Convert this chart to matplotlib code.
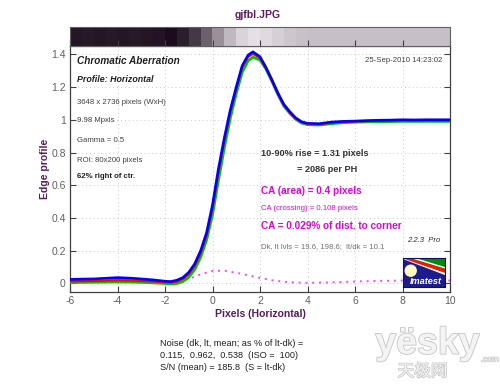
import numpy as np
import matplotlib
matplotlib.use('Agg')
import matplotlib.pyplot as plt
from matplotlib.colors import LinearSegmentedColormap
from matplotlib.patches import Polygon, Ellipse
import matplotlib.patheffects as pe

plt.rcParams['font.family'] = ['Liberation Sans', 'DejaVu Sans']
plt.rcParams['axes.unicode_minus'] = False

PURPLE = '#5a1a5e'
TICK_C = '#606060'
MAG = '#e000e0'

# ── data ─────────────────────────────────────────────
x_px = [-6, -5.5, -5, -4.5, -4, -3.5, -3, -2.5, -2, -1.75, -1.5, -1.25, -1, -0.75,
        -0.5, -0.25, 0, 0.25, 0.5, 0.75, 1.0, 1.25, 1.5, 1.7, 2.0, 2.25, 2.5,
        2.75, 3.0, 3.25, 3.5, 3.75, 4.0, 4.5, 5.0, 5.5, 6, 6.5, 7, 7.5, 8, 8.5,
        9, 9.5, 10]
blue = [0.025, 0.027, 0.028, 0.032, 0.036, 0.033, 0.028, 0.022, 0.014, 0.012,
        0.02, 0.036, 0.068, 0.12, 0.2, 0.31, 0.48, 0.70, 0.89, 1.06, 1.2, 1.33,
        1.395, 1.415, 1.385, 1.32, 1.245, 1.165, 1.095, 1.05, 1.012, 0.988,
        0.978, 0.976, 0.986, 0.99, 0.992, 0.995, 0.997, 0.998, 1.0, 0.999, 1.0,
        1.0, 1.0]
red = [0.014, 0.015, 0.016, 0.018, 0.02, 0.019, 0.016, 0.013, 0.008, 0.007,
       0.012, 0.028, 0.058, 0.108, 0.185, 0.295, 0.46, 0.68, 0.875, 1.05, 1.19,
       1.32, 1.385, 1.403, 1.378, 1.315, 1.24, 1.16, 1.09, 1.045, 1.008, 0.985,
       0.975, 0.973, 0.982, 0.987, 0.99, 0.992, 0.994, 0.995, 0.996, 0.996,
       0.996, 0.996, 0.996]
green = [0.006, 0.007, 0.008, 0.009, 0.01, 0.009, 0.007, 0.004, 0.0, -0.002,
         0.0, 0.012, 0.038, 0.085, 0.16, 0.265, 0.42, 0.63, 0.83, 1.01, 1.16,
         1.29, 1.36, 1.382, 1.365, 1.31, 1.235, 1.155, 1.085, 1.04, 1.003,
         0.98, 0.97, 0.968, 0.976, 0.982, 0.985, 0.987, 0.988, 0.989, 0.99,
         0.99, 0.99, 0.99, 0.99]

ca_x = [-6, -5, -4, -3, -2, -1.5, -1, -0.5, 0, 0.5, 1, 1.5, 2, 2.5, 3, 3.5,
        4, 5, 6, 7, 8, 9, 10]
ca_diff = [0.006, 0.006, 0.007, 0.006, 0.005, 0.012, 0.028, 0.056, 0.077,
           0.078, 0.066, 0.05, 0.034, 0.02, 0.011, 0.006, 0.004, 0.007, 0.012,
           0.016, 0.018, 0.018, 0.018]

strip_vals = [0.05, 0.06, 0.05, 0.06, 0.05, 0.06, 0.05, 0.04, 0.0, 0.08, 0.2,
              0.38, 0.6, 0.78, 0.9, 0.96, 0.93, 0.88, 0.84, 0.82, 0.81, 0.81,
              0.81, 0.81, 0.81, 0.81, 0.81, 0.81, 0.81, 0.81, 0.81, 0.81]

x_ticks = [-6, -4, -2, 0, 2, 4, 6, 8, 10]
y_ticks = [0, 0.2, 0.4, 0.6, 0.8, 1, 1.2, 1.4]
y_ticklabels = ['0', '0.2', '0.4', '0.6', '0.8', '1', '1.2', '1.4']

# ── figure ───────────────────────────────────────────
fig = plt.figure(figsize=(5.0, 3.84), dpi=100, facecolor='white')
ax = fig.add_axes([0.14, 0.2404, 0.76, 0.6396])
axs = fig.add_axes([0.14, 0.880, 0.76, 0.050])

# strip
cmap = LinearSegmentedColormap.from_list('edge', ['#1a0c1c', '#efe9ef'])
axs.imshow(np.array([strip_vals]), cmap=cmap, vmin=0, vmax=1, aspect='auto',
           interpolation='nearest', extent=(-6, 10, 0, 1))
axs.set_xlim(-6, 10)
axs.set_xticks(x_ticks)
axs.set_yticks([])
axs.tick_params(axis='x', direction='in', length=4, labelbottom=False,
                color='#404040', width=0.8)
for sp in axs.spines.values():
    sp.set_color('#606060')
    sp.set_linewidth(0.8)

# curves
ax.plot(x_px, green, color='#00c800', lw=2.0, zorder=3)
ax.plot(x_px, red, color='#ff0000', lw=1.7, zorder=4)
ax.plot(x_px, blue, color='#0000ff', lw=1.9, zorder=5)
ax.plot(ca_x, ca_diff, color='#ff40ff', lw=1.4, ls=(0, (1, 2.5)), zorder=2)

ax.set_xlim(-6, 10)
ax.set_ylim(-0.05, 1.45)
ax.set_xticks(x_ticks)
ax.set_yticks(y_ticks)
ax.set_yticklabels(y_ticklabels)
ax.tick_params(direction='in', length=4, right=True, top=False,
               labelsize=7.5, labelcolor=TICK_C, color='#404040', width=0.8,
               pad=3)
ax.grid(True, color='#c8c8c8', ls=(0, (1, 3)), lw=0.7)
for sp in ax.spines.values():
    sp.set_color('#404040')
    sp.set_linewidth(0.9)

ax.set_xlabel('Pixels (Horizontal)', color=PURPLE, fontsize=7.5,
              fontweight='bold', labelpad=2)
ax.set_ylabel('Edge profile', color=PURPLE, fontsize=7.5, fontweight='bold',
              labelpad=1)
fig.text(0.516, 0.961, 'gjfbl.JPG', color=PURPLE, fontsize=7.5,
         fontweight='bold', ha='center', va='center')

# text annotations (pixel positions -> figure fraction)
def ft(xp, yp, s, **kw):
    fig.text(xp / 500, 1 - yp / 384, s, va='center', **kw)

ft(77, 61, 'Chromatic Aberration', color='#202020', fontsize=7.2,
   fontweight='bold', style='italic')
ft(77, 79, 'Profile: Horizontal', color='#202020', fontsize=6.4,
   fontweight='bold', style='italic')
ft(77, 103, '3648 x 2736 pixels (WxH)', color='#404040', fontsize=5.6)
ft(77, 121, '9.98 Mpxls', color='#404040', fontsize=5.6)
ft(77, 141, 'Gamma = 0.5', color='#404040', fontsize=5.6)
ft(77, 161, 'ROI: 80x200 pixels', color='#404040', fontsize=5.6)
ft(77, 177, '62% right of ctr.', color='#202020', fontsize=5.6,
   fontweight='bold')
ft(442, 61, '25-Sep-2010 14:23:02', color='#404040', fontsize=5.6, ha='right')
ft(261, 153, '10-90% rise = 1.31 pixels', color='#333333', fontsize=6.6,
   fontweight='bold')
ft(297, 169, '= 2086 per PH', color='#333333', fontsize=6.6, fontweight='bold')
ft(261, 191, 'CA (area) = 0.4 pixels', color=MAG, fontsize=7.2,
   fontweight='bold')
ft(261, 208, 'CA (crossing) = 0.108 pixels', color=MAG, fontsize=5.6)
ft(261, 226, 'CA = 0.029% of dist. to corner', color=MAG, fontsize=7.2,
   fontweight='bold')
ft(261, 247, 'Dk, lt lvls = 19.6, 198.6;  lt/dk = 10.1', color='#707070',
   fontsize=5.6)
ft(407, 240, '2.2.3  Pro', color='#303030', fontsize=5.6, style='italic')

ft(160, 343, 'Noise (dk, lt, mean; as % of lt-dk) =', color='#202020',
   fontsize=6.6)
ft(160, 356, '0.115,  0.962,  0.538  (ISO =  100)', color='#202020',
   fontsize=6.6)
ft(160, 368, 'S/N (mean) = 185.8  (S = lt-dk)', color='#202020', fontsize=6.6)

# Imatest logo
axl = fig.add_axes([402.7 / 500, 1 - 286.7 / 384, 42.3 / 500, 28.4 / 384])
axl.set_xlim(0, 42.3)
axl.set_ylim(0, 28.4)
axl.set_facecolor('#1c1c8c')
axl.set_xticks([])
axl.set_yticks([])
for sp in axl.spines.values():
    sp.set_color('#101060')
axl.add_patch(Polygon([[0, 28.4], [42.3, 28.4], [42.3, 13]], color='white'))
axl.add_patch(Polygon([[16, 28.4], [42.3, 28.4], [42.3, 20.5]],
                      color='#008c00'))
axl.add_patch(Polygon([[2, 28.4], [6, 28.4], [42.3, 17.5], [42.3, 14.5]],
                      color='#e02000'))
axl.add_patch(Ellipse((8, 16), 11, 11, color='#fffcc0', zorder=3))
axl.text(23, 5, 'Imatest', color='white', fontsize=6.6,
         fontweight='bold', style='italic', ha='center', va='center',
         zorder=4)

# watermark
wm = fig.text(0.855, 0.105, 'yësky', color='#f4f4f4', fontsize=27,
              fontweight='bold', ha='center', va='center')
wm.set_path_effects([pe.withStroke(linewidth=1.2, foreground='#c4c4c4')])
wc = fig.text(0.998, 0.062, '.com', color='#f4f4f4', fontsize=6,
              ha='right', va='center')
wc.set_path_effects([pe.withStroke(linewidth=0.8, foreground='#c4c4c4')])
wz = fig.text(0.845, 0.032, '天极网', color='#f4f4f4', fontsize=12,
              ha='center', va='center',
              family=['Noto Sans CJK SC', 'DejaVu Sans'])
wz.set_path_effects([pe.withStroke(linewidth=1.0, foreground='#c4c4c4')])

fig.savefig('out.png', dpi=100, facecolor='white')
